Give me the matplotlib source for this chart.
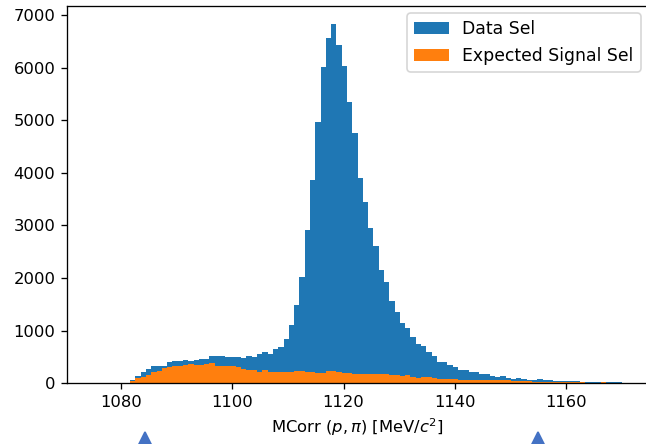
import numpy as np
import matplotlib
matplotlib.use("Agg")
import matplotlib.pyplot as plt
import matplotlib.transforms as mtransforms

# Histogram binning: 100 bins between 1075 and 1170 MeV/c^2
bin_lo, bin_hi, n_bins = 1075.0, 1170.0, 100

# Bin contents for the selected data
data_sel = [
    0, 0, 0, 0, 0, 0, 15, 63, 139, 215,
    272, 330, 330, 330, 399, 425, 425, 443, 425, 443,
    463, 463, 520, 520, 520, 500, 500, 500, 488, 520,
    505, 555, 600, 558, 653, 697, 850, 1100, 1480, 2018,
    2915, 3865, 4974, 6019, 6564, 6820, 6437, 6038, 5354, 4758,
    3909, 3453, 2953, 2610, 2145, 1920, 1558, 1362, 1140, 1045,
    875, 740, 710, 596, 520, 405, 405, 345, 310, 253,
    253, 215, 215, 177, 177, 146, 120, 139, 108, 82,
    95, 82, 70, 63, 82, 63, 57, 44, 44, 44,
    44, 44, 32, 25, 25, 25, 19, 25, 25, 25,
]

# Bin contents for the expected signal after selection
signal_sel = [
    0, 0, 0, 0, 0, 0, 0, 44, 101, 127,
    165, 215, 234, 285, 317, 330, 330, 355, 367, 348,
    348, 367, 386, 330, 330, 330, 330, 317, 272, 253,
    255, 222, 260, 222, 209, 222, 215, 215, 240, 240,
    212, 212, 193, 193, 228, 228, 212, 193, 193, 177,
    170, 170, 185, 185, 185, 170, 152, 152, 140, 158,
    118, 105, 120, 120, 101, 82, 82, 82, 82, 66,
    66, 66, 66, 57, 70, 57, 57, 57, 57, 44,
    44, 44, 38, 25, 25, 25, 25, 25, 25, 25,
    25, 19, 19, 13, 13, 13, 25, 13, 13, 13,
]

# Selection window markers
cut_positions = [1084.3, 1155.0]

edges = np.linspace(bin_lo, bin_hi, n_bins + 1)
centers = 0.5 * (edges[:-1] + edges[1:])

DPI = 118
fig = plt.figure(figsize=(646 / DPI, 444 / DPI), dpi=DPI)
ax = fig.add_axes([0.1033, 0.1367, 0.9003, 0.8505])

ax.hist(centers, bins=edges, weights=data_sel, color="tab:blue", label="Data Sel")
ax.hist(centers, bins=edges, weights=signal_sel, color="tab:orange",
        label="Expected Signal Sel")

ax.set_xlim(1070.25, 1174.75)
ax.set_ylim(0, 7175)
ax.set_xticks([1080, 1100, 1120, 1140, 1160])
ax.set_yticks(range(0, 7001, 1000))
ax.set_xlabel(r"MCorr $(p,\pi)$ [MeV/$c^2$]")
ax.legend(loc="upper right", fontsize=10.5, borderaxespad=0.45)

# Triangles below the axis marking the selection window
trans = mtransforms.blended_transform_factory(ax.transData, ax.transAxes)
ax.plot(cut_positions, [-0.151] * len(cut_positions), linestyle="none",
        marker="^", markersize=10.2, color="#4472c4", transform=trans,
        clip_on=False)

fig.savefig("out.png", dpi=DPI)
